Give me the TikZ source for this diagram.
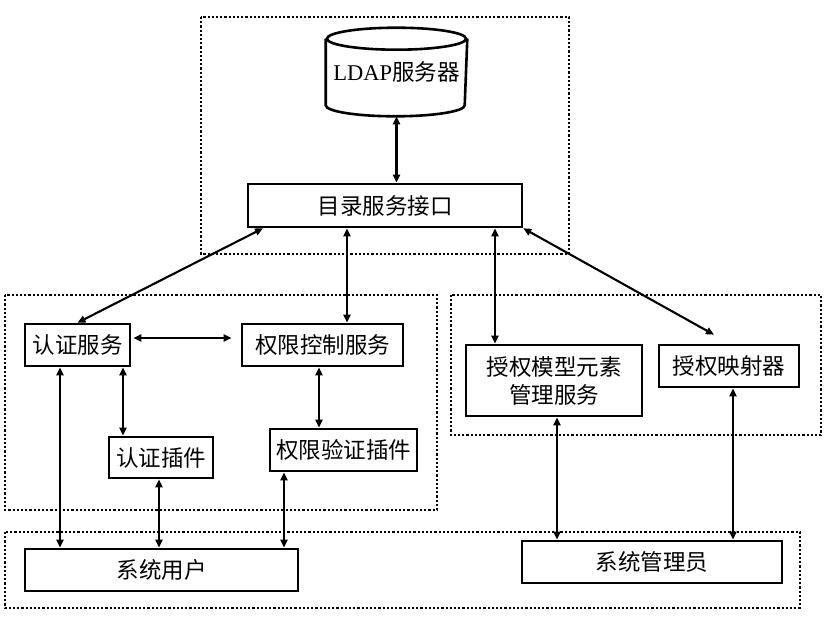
\documentclass[tikz,border=0pt]{standalone}
\usepackage{fontspec}
\setmainfont{Noto Sans CJK SC}
\newfontfamily\latin{Liberation Serif}
\usetikzlibrary{arrows.meta,calc}
\tikzset{
  box/.style={draw,line width=2.6pt,font=\fontsize{22.5}{28}\selectfont,inner sep=0pt,align=center},
  link/.style={line width=2.1pt,{Triangle[length=8pt,width=7pt]}-{Triangle[length=8pt,width=7pt]}},
  group/.style={line width=2.4pt,dash pattern=on 2.2pt off 2pt}
}
\begin{document}
\begin{tikzpicture}[x=1pt,y=-1pt]
			\useasboundingbox (0,0) rectangle (827,632);
			% dotted frames
			\draw [group] (201,17) rectangle (569,254);
			\draw [group] (5,295) rectangle (437,510);
			\draw [group] (451,295) rectangle (821,435);
			\draw [group] (5,532) rectangle (800,608);
			% LDAP server
			\node [box,draw=none,minimum width=139pt,minimum height=86pt] (ldap) at (396.5,72) {\raisebox{-6pt}{{\latin LDAP}服务器}};
			\draw [line width=2.6pt] ([yshift=-11pt]ldap.north west) -- ([yshift=11pt]ldap.south west)
				arc [start angle=180,end angle=360,x radius=69.5pt,y radius=11pt] -- ([yshift=-11pt]ldap.north east);
			\draw [line width=2.6pt] ([yshift=-11pt]ldap.north) ellipse [x radius=69.5pt,y radius=11pt];
			\node [box,minimum width=274pt,minimum height=43pt] (dir) at (385,205.5) {目录服务接口};
			% left group
			\node [box,minimum width=105pt,minimum height=42pt] (auth) at (77.5,345) {认证服务};
			\node [box,minimum width=161pt,minimum height=42pt] (perm) at (322.5,345) {权限控制服务};
			\node [box,minimum width=104pt,minimum height=41pt] (aplug) at (161,457.5) {认证插件};
			\node [box,minimum width=147pt,minimum height=42pt] (pplug) at (343.5,450) {权限验证插件};
			% right group
			\node [box,minimum width=176pt,minimum height=71pt] (model) at (554,380.5) {授权模型元素\\管理服务};
			\node [box,minimum width=140pt,minimum height=42pt] (mapper) at (729,366) {授权映射器};
			% users
			\node [box,minimum width=273pt,minimum height=42pt] (user) at (161.5,570) {系统用户};
			\node [box,minimum width=260pt,minimum height=42pt] (admin) at (652,562) {系统管理员};
			% links
			\draw [link] (ldap.south) -- (ldap.south |- dir.north);
			\draw [link] ([xshift=-122pt]dir.south) -- (auth.north);
			\draw [link] ([xshift=-38pt]dir.south) -- ([xshift=-38pt]dir.south |- perm.north);
			\draw [link] ([xshift=110pt]dir.south) -- ([xshift=110pt]dir.south |- model.north);
			\draw [link] (dir.south east) -- ([xshift=-15pt,yshift=9pt]mapper.north);
			\draw [link] ([xshift=2pt,yshift=7pt]auth.east) -- ([xshift=-9pt,yshift=7pt]perm.west);
			\draw [link] ([xshift=-17.5pt]auth.south) -- ([xshift=-17.5pt]auth.south |- user.north);
			\draw [link] ([xshift=45.5pt]auth.south) -- ([xshift=45.5pt]auth.south |- aplug.north);
			\draw [link] ([xshift=-2pt]aplug.south) -- ([xshift=-2pt]aplug.south |- user.north);
			\draw [link] ([xshift=-3.5pt]perm.south) -- ([xshift=-3.5pt]perm.south |- pplug.north);
			\draw [link] ([xshift=-59.5pt]pplug.south) -- ([xshift=-59.5pt]pplug.south |- user.north);
			\draw [link] ([xshift=3pt]model.south) -- ([xshift=3pt]model.south |- admin.north);
			\draw [link] ([xshift=4pt]mapper.south) -- ([xshift=4pt]mapper.south |- admin.north);
\end{tikzpicture}
\end{document}
